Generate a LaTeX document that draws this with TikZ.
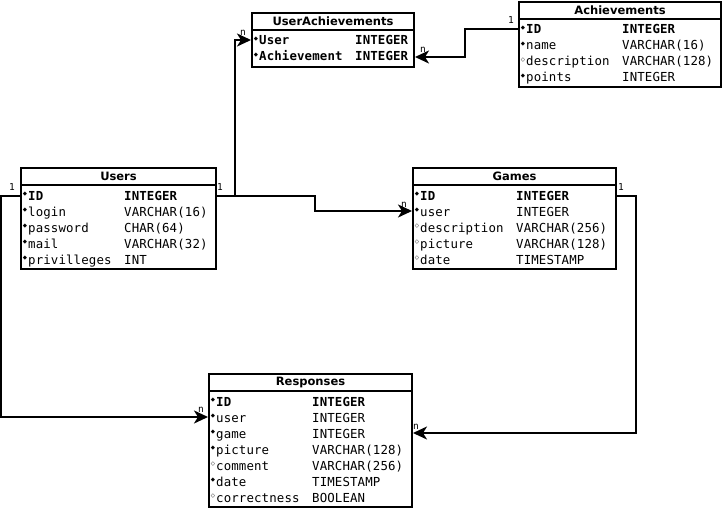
\documentclass[tikz,border=0pt]{standalone}
\usepackage{fontspec}
\usetikzlibrary{arrows.meta}
\setmainfont{DejaVu Sans}
\newfontfamily\monof[LetterSpace=1]{DejaVu Sans Mono}
\newfontfamily\markf{DejaVu Sans}
\def\rfk{\bfseries}\def\rfr{}\def\rfo{}
\def\mkk{◆}\def\mkr{◆}\def\mko{◇}
\newcommand\ertab[7]{%
  \node[tbl, minimum width=#4pt, minimum height=#5pt] (#1) at (#2,#3) {};
  \draw[line width=2pt] ([yshift=-18pt]#1.north west) -- ([yshift=-18pt]#1.north east);
  \node[ttl] (#1-t) at ([yshift=-9.5pt]#1.north) {#6};
  \foreach \m/\n/\t [count=\i] in {#7} {
    \node[mrk] (#1-m\i) at ([xshift=5pt, yshift={-(27.5+16*(\i-1))*1pt}]#1.north west) {\csname mk\m\endcsname};
    \node[row] (#1-n\i) at ([xshift=8pt, yshift={-(33+16*(\i-1))*1pt}]#1.north west) {\csname rf\m\endcsname \n};
    \node[row] (#1-c\i) at ([xshift=104pt, yshift={-(33+16*(\i-1))*1pt}]#1.north west) {\csname rf\m\endcsname \t};
  }
}
\begin{document}
\begin{tikzpicture}[x=1pt,y=-1pt,
  tbl/.style={draw, line width=2pt, inner sep=0pt, anchor=north west, fill=white},
  ttl/.style={font=\bfseries\fontsize{11.5}{13}\selectfont, inner sep=0pt},
  row/.style={font=\monof\fontsize{12.4}{14}\selectfont, anchor=base west, inner sep=0pt},
  mrk/.style={font=\markf\fontsize{5.5}{6}\selectfont, inner sep=0pt, anchor=center},
  conn/.style={line width=2pt, -{Stealth[length=14pt,width=13pt,inset=4pt]}},
  card/.style={font=\monof\fontsize{9.5}{10}\selectfont, inner sep=0pt}]
\useasboundingbox (0,0) rectangle (722,508);
\ertab{ua}{251}{12}{162}{54}{UserAchievements}{k/User/INTEGER,k/Achievement/INTEGER}
\ertab{ach}{518}{1}{202}{85}{Achievements}{k/ID/INTEGER,r/name/VARCHAR(16),o/description/VARCHAR(128),r/points/INTEGER}
\ertab{users}{20}{167}{195}{101}{Users}{k/ID/INTEGER,r/login/VARCHAR(16),r/password/CHAR(64),r/mail/VARCHAR(32),r/privilleges/INT}
\ertab{games}{412}{167}{203}{101}{Games}{k/ID/INTEGER,r/user/INTEGER,o/description/VARCHAR(256),o/picture/VARCHAR(128),o/date/TIMESTAMP}
\ertab{resp}{208}{373}{203}{133}{Responses}{k/ID/INTEGER,r/user/INTEGER,r/game/INTEGER,r/picture/VARCHAR(128),o/comment/VARCHAR(256),r/date/TIMESTAMP,o/correctness/BOOLEAN}
% connectors
\draw[conn] ([yshift=-29pt]users.north east) -- ++(18,0) |- ([yshift=-28pt]ua.north west);
\draw[conn] ([yshift=-29pt]users.north east) -- ++(98,0) |- ([yshift=-44pt]games.north west);
\draw[conn] ([yshift=-28pt]ach.north west) -- ++(-53,0) |- ([yshift=-45pt]ua.north east);
\draw[conn] ([yshift=-29pt]users.north west) -- ++(-19,0) |- ([yshift=-44pt]resp.north west);
\draw[conn] ([yshift=-29pt]games.north east) -- ++(19,0) |- ([yshift=-60pt]resp.north east);
% cardinalities
\node[card] (l1) at (220,187) {1};
\node[card] (l2) at (243,33) {n};
\node[card] (l3) at (404,205) {n};
\node[card] (l4) at (511,20) {1};
\node[card] (l5) at (423,50) {n};
\node[card] (l6) at (12,187) {1};
\node[card] (l7) at (201,410) {n};
\node[card] (l8) at (621,187) {1};
\node[card] (l9) at (416,427) {n};
\end{tikzpicture}
\end{document}
